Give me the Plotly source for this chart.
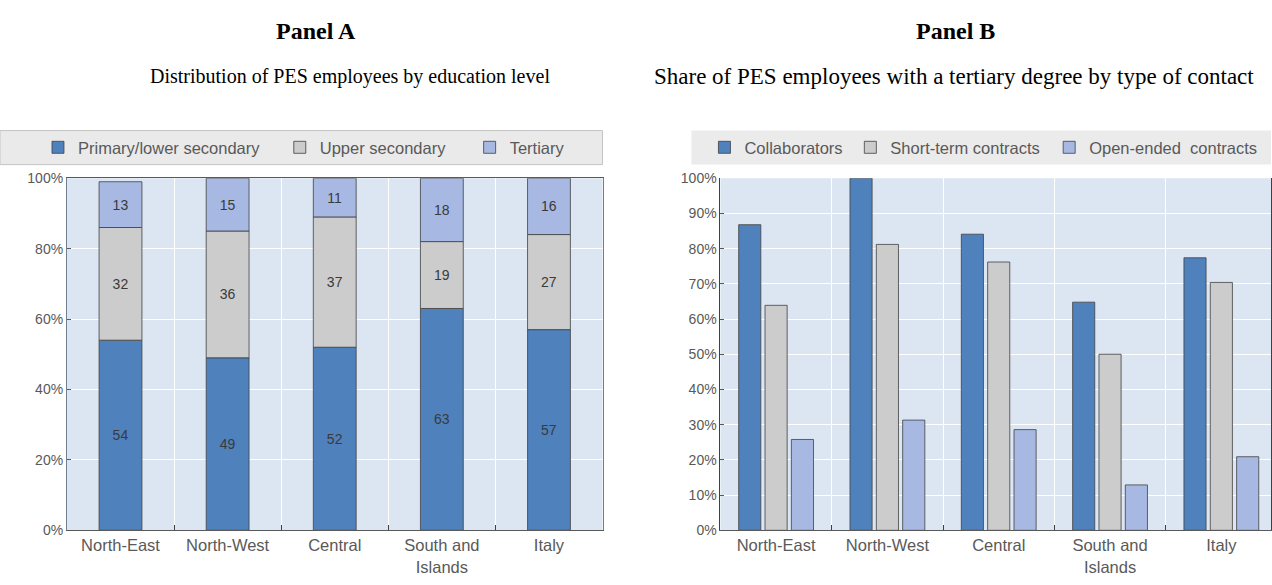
import plotly.graph_objects as go
import numpy as np

regions = ["North-East", "North-West", "Central", "South and<br>Islands", "Italy"]

# Panel A: distribution by education level (%)
primary = [54, 49, 52, 63, 57]
upper_secondary = [32, 36, 37, 19, 27]
tertiary = [13, 15, 11, 18, 16]

# Panel B: share with tertiary degree by type of contract (%)
collaborators = [86.8, 100.0, 84.1, 64.8, 77.4]
short_term = [63.9, 81.2, 76.2, 50.0, 70.4]
open_ended = [25.8, 31.3, 28.6, 12.9, 20.9]

C_DARK = "#4F81BD"
C_GREY = "#CCCCCC"
C_LIGHT = "#A7B9E3"
OUTLINE = dict(color="#404040", width=0.8)
TXT = "#595959"
SANS = "Liberation Sans, Arial, sans-serif"
SERIF = "Liberation Serif, Times New Roman, serif"

W, H = 1272, 585
ytop, ybot = 175, 537
ydom = [1 - ybot / H, 1 - ytop / H]
LEG_Y = 1 - 143.5 / H

fig = go.Figure()

# ---- Panel A (stacked via shared offsetgroup + base) ----
base_upper = list(np.array(primary))
base_tert = list(np.array(primary) + np.array(upper_secondary))
panelA = [
    ("Primary/lower secondary", primary, None, C_DARK, "legend", 58),
    ("Upper secondary", upper_secondary, base_upper, C_GREY, "legend2", 300),
    ("Tertiary", tertiary, base_tert, C_LIGHT, "legend3", 490),
]
panelB = [
    ("Collaborators", collaborators, C_DARK, "legend4", 725),
    ("Short-term contracts", short_term, C_GREY, "legend5", 871),
    ("Open-ended  contracts", open_ended, C_LIGHT, "legend6", 1070),
]

legend_layout = {}
for name, vals, base, col, leg, sx in panelA:
    fig.add_trace(go.Bar(
        x=regions, y=vals, base=base, name=name,
        marker=dict(color=col, line=OUTLINE),
        offsetgroup="A", width=0.4, offset=-0.2,
        text=[str(v) for v in vals], textposition="inside",
        insidetextanchor="middle", textangle=0,
        textfont=dict(family=SANS, size=14, color="#3A3A3A"),
        xaxis="x", yaxis="y", legend=leg,
    ))
    legend_layout[leg] = dict(sx=sx)

for name, vals, col, leg, sx in panelB:
    fig.add_trace(go.Bar(
        x=regions, y=vals, name=name,
        marker=dict(color=col, line=OUTLINE),
        xaxis="x2", yaxis="y2", legend=leg,
    ))
    legend_layout[leg] = dict(sx=sx)

legends = {}
for leg, d in legend_layout.items():
    legends[leg] = dict(
        orientation="h", x=(d["sx"] - 20) / W, xanchor="left",
        y=LEG_Y, yanchor="middle", bgcolor="rgba(0,0,0,0)",
        font=dict(family=SANS, size=16.5, color=TXT),
    )

axis_common = dict(
    type="category", tickson="boundaries", ticks="inside", ticklen=5,
    tickcolor="#404040", showgrid=True, gridcolor="white", gridwidth=1,
    tickfont=dict(family=SANS, size=16.5, color=TXT),
    showline=True, linecolor="#595959", linewidth=1, fixedrange=True,
)
yaxis_common = dict(
    ticks="inside", ticklen=4, tickcolor="#595959",
    showgrid=True, gridcolor="white", gridwidth=1, zeroline=False,
    tickfont=dict(family=SANS, size=14, color=TXT), ticksuffix="%",
    showline=True, linecolor="#595959", linewidth=1, fixedrange=True,
)

fig.update_layout(
    width=W, height=H,
    margin=dict(l=0, r=0, t=0, b=0),
    paper_bgcolor="white", plot_bgcolor="#DCE6F2",
    barmode="group", bargap=0.29, bargroupgap=0.16,
    showlegend=True,
    xaxis=dict(axis_common, domain=[67 / W, 603 / W], anchor="y",
               mirror=True, range=[-0.5, 4.5]),
    yaxis=dict(yaxis_common, domain=ydom, anchor="x", range=[0, 100],
               dtick=20, mirror=True, linecolor="#6F7F90"),
    xaxis2=dict(axis_common, domain=[721 / W, 1.0], anchor="y2",
                range=[-0.5, 4.446]),
    yaxis2=dict(yaxis_common, domain=ydom, anchor="x2", range=[0, 100],
                dtick=10, mirror=True, linecolor="#404040"),
    shapes=[
        dict(type="rect", xref="paper", yref="paper",
             x0=0, x1=603 / W, y0=1 - 161 / H, y1=1 - 126 / H,
             fillcolor="#EAEAEA", line=dict(color="#C4C4C4", width=1),
             layer="below"),
        dict(type="rect", xref="paper", yref="paper",
             x0=692 / W, x1=1.0, y0=1 - 161 / H, y1=1 - 126 / H,
             fillcolor="#EBEBEB", line=dict(width=0), layer="below"),
    ],
    annotations=[
        dict(text="<b>Panel A</b>", x=316 / W, y=1 - 24 / H, xref="paper",
             yref="paper", showarrow=False, xanchor="center", yanchor="middle",
             font=dict(family=SERIF, size=24, color="black")),
        dict(text="Distribution of PES employees by education level",
             x=350 / W, y=1 - 70 / H, xref="paper", yref="paper",
             showarrow=False, xanchor="center", yanchor="middle",
             font=dict(family=SERIF, size=20, color="black")),
        dict(text="<b>Panel B</b>", x=956 / W, y=1 - 24 / H, xref="paper",
             yref="paper", showarrow=False, xanchor="center", yanchor="middle",
             font=dict(family=SERIF, size=24, color="black")),
        dict(text="Share of PES employees with a tertiary degree by type of contact",
             x=955 / W, y=1 - 70 / H, xref="paper", yref="paper",
             showarrow=False, xanchor="center", yanchor="middle",
             font=dict(family=SERIF, size=23, color="black")),
    ],
    **legends,
)

fig.write_html(
    "out.html",
    config={"displayModeBar": False},
    post_script=(
        "document.documentElement.style.margin='0';"
        "document.body.style.margin='0';"
        "document.documentElement.style.overflow='hidden';"
        "document.body.style.overflow='hidden';"
        "var gd=document.getElementById('{plot_id}');"
        "gd.style.position='fixed';gd.style.top='0px';gd.style.left='0px';"
    ),
)
